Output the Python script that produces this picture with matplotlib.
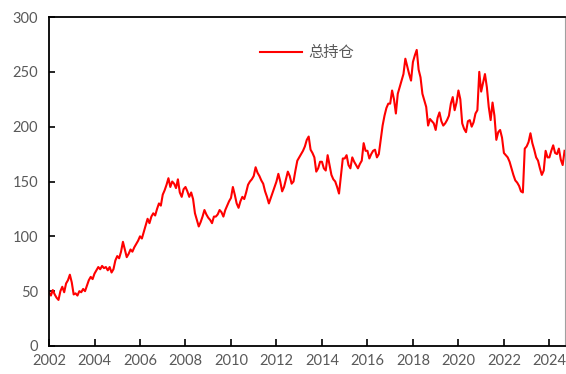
import numpy as np
import matplotlib
matplotlib.use('Agg')
import matplotlib.pyplot as plt

plt.rcParams['font.family'] = ['Lato', 'Noto Sans CJK SC', 'DejaVu Sans']

# monthly total open interest, one list per year
oi_2002 = [49, 46, 51, 47, 44, 42, 50, 54, 49, 57, 60, 65]
oi_2003 = [58, 47, 48, 46, 50, 49, 52, 50, 55, 60, 63, 61]
oi_2004 = [66, 69, 72, 70, 73, 71, 72, 69, 72, 67, 70, 78]
oi_2005 = [82, 80, 86, 95, 88, 81, 84, 88, 86, 90, 93, 96]
oi_2006 = [100, 98, 104, 110, 116, 112, 118, 121, 119, 125, 130, 128]
oi_2007 = [138, 142, 147, 153, 145, 150, 148, 144, 152, 140, 136, 143]
oi_2008 = [145, 141, 136, 140, 134, 121, 115, 109, 113, 118, 124, 120]
oi_2009 = [117, 115, 112, 118, 118, 120, 124, 122, 118, 124, 128, 132]
oi_2010 = [135, 145, 138, 130, 126, 132, 136, 134, 140, 147, 150, 152]
oi_2011 = [155, 163, 158, 155, 151, 148, 141, 136, 130, 135, 140, 145]
oi_2012 = [150, 157, 150, 141, 145, 152, 159, 155, 148, 150, 160, 169]
oi_2013 = [172, 175, 178, 182, 188, 191, 179, 176, 172, 159, 162, 168]
oi_2014 = [168, 162, 160, 174, 165, 156, 152, 150, 145, 139, 155, 171]
oi_2015 = [171, 174, 165, 162, 172, 168, 165, 162, 166, 169, 185, 178]
oi_2016 = [178, 171, 175, 178, 179, 172, 175, 188, 201, 210, 217, 221]
oi_2017 = [221, 233, 225, 212, 230, 236, 242, 248, 262, 255, 248, 242]
oi_2018 = [259, 265, 270, 252, 245, 230, 224, 218, 201, 207, 205, 203]
oi_2019 = [197, 208, 213, 205, 201, 203, 206, 210, 221, 227, 215, 222]
oi_2020 = [233, 225, 203, 198, 195, 205, 206, 200, 204, 212, 215, 250]
oi_2021 = [232, 240, 248, 236, 218, 206, 222, 210, 188, 195, 197, 190]
oi_2022 = [176, 174, 172, 168, 162, 156, 151, 149, 146, 141, 140, 180]
oi_2023 = [182, 186, 194, 185, 179, 172, 169, 162, 156, 160, 178, 172]
oi_2024 = [172, 178, 183, 176, 175, 180, 170, 165, 178]

years = list(range(2002, 2025))
yearly = [oi_2002, oi_2003, oi_2004, oi_2005, oi_2006, oi_2007, oi_2008,
          oi_2009, oi_2010, oi_2011, oi_2012, oi_2013, oi_2014, oi_2015,
          oi_2016, oi_2017, oi_2018, oi_2019, oi_2020, oi_2021, oi_2022,
          oi_2023, oi_2024]

t = []
oi = []
for yr, vals in zip(years, yearly):
    for m, v in enumerate(vals):
        t.append(yr + m / 12)
        oi.append(v)

x_ticks = list(range(2002, 2025, 2))
y_ticks = [0, 50, 100, 150, 200, 250, 300]

fig = plt.figure(figsize=(5.66, 3.74), dpi=100)
ax = fig.add_axes([0.0866, 0.0749, 0.9114, 0.8796])
ax.plot(t, oi, color='#FF0000', lw=1.5, label='总持仓')

ax.set_xlim(2002, 2024.68)
ax.set_ylim(0, 300)
ax.set_xticks(x_ticks)
ax.set_yticks(y_ticks)
ax.tick_params(direction='in', colors='black', labelcolor='#595959',
               labelsize=10.5, width=1.2)
ax.tick_params(axis='x', length=5, pad=6)
ax.tick_params(axis='y', length=4, pad=8)

for s in ['top', 'left', 'bottom']:
    ax.spines[s].set_color('black')
    ax.spines[s].set_linewidth(1.3)
ax.spines['right'].set_color('#A0A0A0')
ax.spines['right'].set_linewidth(0.8)

leg = ax.legend(loc='upper center', bbox_to_anchor=(0.5, 0.96), frameon=False,
                handlelength=2.8, handletextpad=0.4,
                prop={'family': ['Noto Sans CJK SC'], 'size': 11})
for txt in leg.get_texts():
    txt.set_color('#595959')

fig.savefig('out.png', dpi=100)
